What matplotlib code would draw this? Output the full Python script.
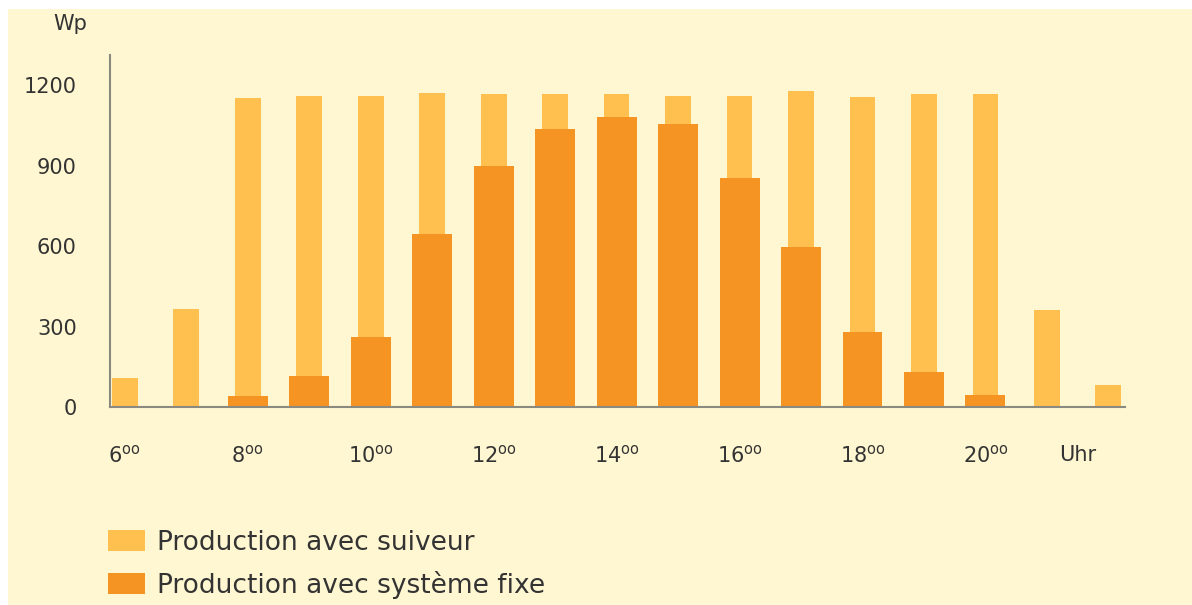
import matplotlib.pyplot as plt
import matplotlib.transforms as mtransforms
from matplotlib.patches import Rectangle

plt.rcParams['font.family'] = ['DejaVu Sans']
plt.rcParams['mathtext.fontset'] = 'custom'
plt.rcParams['mathtext.rm'] = 'DejaVu Sans'

# hours of the day and power in Wp
hours = [6, 7, 8, 9, 10, 11, 12, 13, 14, 15, 16, 17, 18, 19, 20, 21, 22]
suiveur = [108, 365, 1151, 1159, 1159, 1170, 1166, 1166, 1166, 1159, 1159, 1178, 1155, 1166, 1166, 361, 82]
fixe = [0, 0, 41, 116, 261, 645, 898, 1036, 1081, 1055, 853, 596, 280, 130, 45, 0, 0]

tick_hours = [6, 8, 10, 12, 14, 16, 18, 20]
tick_labels = [r'$\mathrm{%d}^{\mathrm{oo}}$' % h for h in tick_hours]
y_ticks = [0, 300, 600, 900, 1200]

light = '#FFC04F'
dark = '#F59422'
cream = '#FFF7D1'
text_col = '#333333'
axis_col = '#8a8a80'

fig = plt.figure(figsize=(11.92, 6.05), dpi=100, facecolor='white')
fig.patches.append(Rectangle((8 / 1192, 0), 1, 1 - 9 / 605, transform=fig.transFigure,
                             facecolor=cream, edgecolor='none', zorder=-10))

ax = fig.add_axes([110 / 1192, 198 / 605, 1015 / 1192, 352 / 605])
ax.set_facecolor('none')

b1 = ax.bar(hours, suiveur, width=0.42, color=light, label='Production avec suiveur', zorder=2)
b2 = ax.bar(hours, fixe, width=0.65, color=dark, label='Production avec système fixe', zorder=3)

ax.set_xlim(5.76, 22.27)
ax.set_ylim(0, 1312)

for s in ['top', 'right']:
    ax.spines[s].set_visible(False)
for s in ['left', 'bottom']:
    ax.spines[s].set_color(axis_col)
    ax.spines[s].set_linewidth(1.5)
    ax.spines[s].set_zorder(4)

ax.set_yticks(y_ticks)
ax.set_xticks(tick_hours)
ax.set_xticklabels(tick_labels)
ax.tick_params(axis='y', length=0, pad=24, labelsize=15, labelcolor=text_col)
ax.tick_params(axis='x', length=0, pad=27, labelsize=15, labelcolor=text_col)

trans = mtransforms.blended_transform_factory(ax.transData, ax.transAxes)
ax.text(21.5, -0.136, 'Uhr', transform=trans, ha='center', va='center',
        fontsize=15, color=text_col)

fig.text(70 / 1192, 1 - 24 / 605, 'Wp', ha='center', va='center', fontsize=15, color=text_col)

fig.legend(handles=[b1, b2], loc='upper left', bbox_to_anchor=(108 / 1192, 1 - 530 / 605),
           frameon=False, fontsize=19, handlelength=1.4, handleheight=0.84,
           handletextpad=0.45, labelspacing=0.55, borderpad=0, borderaxespad=0,
           labelcolor=text_col)

fig.savefig('out.png', dpi=100, facecolor=fig.get_facecolor())
